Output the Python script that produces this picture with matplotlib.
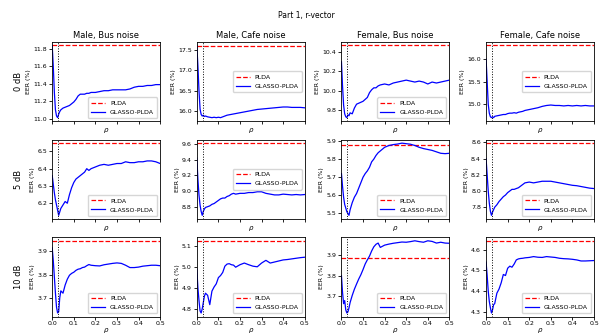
import numpy as np
import matplotlib
matplotlib.use('Agg')
import matplotlib.pyplot as plt

## -- rho grid shared by every run
rho = [0.0, 0.005, 0.01, 0.015, 0.02, 0.025, 0.03, 0.035, 0.04, 0.05, 0.06, 0.07, 0.08,
       0.09, 0.10, 0.11, 0.12, 0.13, 0.14, 0.15, 0.16, 0.17, 0.18, 0.20, 0.22, 0.24,
       0.26, 0.28, 0.30, 0.32, 0.34, 0.36, 0.38, 0.40, 0.42, 0.44, 0.46, 0.48, 0.50]
rho_best = 0.028

col_titles = ["Male, Bus noise", "Male, Cafe noise", "Female, Bus noise", "Female, Cafe noise"]
row_titles = ["0 dB", "5 dB", "10 dB"]

## -- PLDA baseline EER (%) per row, one per column
plda_0db = [11.84, 17.58, 10.47, 16.30]
plda_5db = [6.548, 9.61, 5.876, 8.59]
plda_10db = [3.945, 5.127, 3.886, 4.642]

## -- GLASSO-PLDA EER (%) over rho
glasso_male_bus_0db = [11.84, 11.6, 11.3, 11.1, 11.03, 11.01, 11.05, 11.08, 11.1, 11.12, 11.13, 11.14, 11.15,
                       11.17, 11.19, 11.22, 11.26, 11.28, 11.28, 11.28, 11.29, 11.29, 11.30, 11.30, 11.31, 11.32,
                       11.32, 11.33, 11.33, 11.33, 11.33, 11.34, 11.36, 11.37, 11.37, 11.38, 11.38, 11.39, 11.39]
glasso_male_cafe_0db = [17.6, 17.1, 16.5, 16.05, 15.92, 15.88, 15.9, 15.87, 15.88, 15.86, 15.85, 15.84, 15.85,
                        15.84, 15.85, 15.84, 15.86, 15.88, 15.9, 15.91, 15.92, 15.93, 15.94, 15.96, 15.98, 16.0,
                        16.02, 16.04, 16.05, 16.06, 16.07, 16.08, 16.09, 16.1, 16.1, 16.09, 16.09, 16.09, 16.08]
glasso_female_bus_0db = [10.3, 10.05, 9.85, 9.76, 9.73, 9.72, 9.75, 9.74, 9.77, 9.76, 9.82, 9.86, 9.87,
                         9.88, 9.89, 9.91, 9.93, 9.98, 10.01, 10.03, 10.03, 10.05, 10.06, 10.07, 10.06, 10.08,
                         10.09, 10.10, 10.11, 10.10, 10.09, 10.10, 10.09, 10.07, 10.09, 10.08, 10.09, 10.10, 10.11]
glasso_female_cafe_0db = [16.0, 15.5, 15.0, 14.8, 14.72, 14.7, 14.72, 14.7, 14.73, 14.74, 14.75, 14.76, 14.77,
                          14.77, 14.79, 14.8, 14.8, 14.81, 14.8, 14.82, 14.83, 14.84, 14.86, 14.88, 14.9, 14.92,
                          14.95, 14.97, 14.98, 14.97, 14.97, 14.96, 14.97, 14.96, 14.97, 14.96, 14.97, 14.96, 14.96]

glasso_male_bus_5db = [6.36, 6.31, 6.26, 6.22, 6.19, 6.16, 6.13, 6.15, 6.17, 6.19, 6.21, 6.2, 6.25,
                       6.29, 6.32, 6.34, 6.35, 6.36, 6.37, 6.38, 6.4, 6.39, 6.4, 6.41, 6.42, 6.425,
                       6.42, 6.425, 6.43, 6.43, 6.44, 6.435, 6.435, 6.44, 6.44, 6.445, 6.445, 6.44, 6.43]
glasso_male_cafe_5db = [9.42, 9.15, 8.95, 8.82, 8.74, 8.69, 8.74, 8.77, 8.79, 8.8, 8.81, 8.83, 8.84,
                        8.86, 8.88, 8.9, 8.91, 8.91, 8.93, 8.94, 8.96, 8.97, 8.96, 8.97, 8.97, 8.98,
                        8.98, 8.99, 8.99, 8.97, 8.96, 8.95, 8.95, 8.96, 8.955, 8.95, 8.955, 8.95, 8.955]
glasso_female_bus_5db = [5.72, 5.65, 5.59, 5.55, 5.53, 5.51, 5.5, 5.49, 5.52, 5.56, 5.59, 5.61, 5.64,
                         5.67, 5.7, 5.72, 5.735, 5.755, 5.785, 5.80, 5.82, 5.835, 5.845, 5.865, 5.875, 5.88,
                         5.883, 5.888, 5.885, 5.882, 5.875, 5.865, 5.858, 5.853, 5.848, 5.84, 5.832, 5.83, 5.832]
glasso_female_cafe_5db = [8.4, 8.2, 8.0, 7.85, 7.75, 7.7, 7.74, 7.77, 7.8, 7.83, 7.87, 7.9, 7.93,
                          7.95, 7.98, 8.0, 8.02, 8.02, 8.03, 8.04, 8.06, 8.08, 8.1, 8.11, 8.1, 8.11,
                          8.12, 8.12, 8.12, 8.11, 8.1, 8.09, 8.08, 8.07, 8.065, 8.055, 8.045, 8.035, 8.03]

glasso_male_bus_10db = [3.915, 3.86, 3.79, 3.72, 3.66, 3.635, 3.64, 3.7, 3.73, 3.72, 3.755, 3.78, 3.797,
                        3.805, 3.81, 3.818, 3.823, 3.825, 3.83, 3.832, 3.838, 3.843, 3.84, 3.838, 3.837, 3.842,
                        3.845, 3.848, 3.85, 3.848, 3.84, 3.83, 3.83, 3.832, 3.836, 3.838, 3.84, 3.84, 3.838]
glasso_male_cafe_10db = [4.99, 4.9, 4.84, 4.79, 4.78, 4.8, 4.83, 4.86, 4.875, 4.865, 4.82, 4.885, 4.905,
                         4.92, 4.95, 4.96, 4.975, 5.005, 5.015, 5.017, 5.012, 5.01, 5.0, 5.012, 5.02, 5.012,
                         5.005, 5.002, 5.02, 5.033, 5.02, 5.025, 5.03, 5.035, 5.037, 5.04, 5.043, 5.046, 5.048]
glasso_female_bus_10db = [3.8, 3.72, 3.665, 3.68, 3.635, 3.62, 3.625, 3.645, 3.67, 3.705, 3.735, 3.76, 3.784,
                          3.805, 3.83, 3.857, 3.877, 3.895, 3.92, 3.94, 3.952, 3.958, 3.937, 3.948, 3.953, 3.957,
                          3.96, 3.963, 3.962, 3.965, 3.969, 3.965, 3.962, 3.969, 3.966, 3.958, 3.962, 3.958, 3.957]
glasso_female_cafe_10db = [4.54, 4.475, 4.4, 4.35, 4.32, 4.295, 4.31, 4.335, 4.34, 4.39, 4.41, 4.44, 4.48,
                           4.475, 4.51, 4.52, 4.515, 4.53, 4.55, 4.555, 4.557, 4.558, 4.56, 4.562, 4.566, 4.563,
                           4.562, 4.566, 4.564, 4.562, 4.558, 4.556, 4.555, 4.553, 4.55, 4.545, 4.545, 4.546, 4.547]

## -- y ticks per panel
yticks_0db = [[11.0, 11.2, 11.4, 11.6, 11.8], [16.0, 16.5, 17.0, 17.5], [9.8, 10.0, 10.2, 10.4], [15.0, 15.5, 16.0]]
yticks_5db = [[6.2, 6.3, 6.4, 6.5], [8.8, 9.0, 9.2, 9.4, 9.6], [5.5, 5.6, 5.7, 5.8, 5.9], [7.8, 8.0, 8.2, 8.4, 8.6]]
yticks_10db = [[3.7, 3.8, 3.9], [4.8, 4.9, 5.0, 5.1], [3.7, 3.8, 3.9], [4.3, 4.4, 4.5, 4.6]]
xticks = [0.0, 0.1, 0.2, 0.3, 0.4, 0.5]

glasso = [[glasso_male_bus_0db, glasso_male_cafe_0db, glasso_female_bus_0db, glasso_female_cafe_0db],
          [glasso_male_bus_5db, glasso_male_cafe_5db, glasso_female_bus_5db, glasso_female_cafe_5db],
          [glasso_male_bus_10db, glasso_male_cafe_10db, glasso_female_bus_10db, glasso_female_cafe_10db]]
plda = [plda_0db, plda_5db, plda_10db]
yticks = [yticks_0db, yticks_5db, yticks_10db]
legend_loc = [["lower right", "center right", "lower right", "center right"],
              ["lower right", "center right", "lower right", "lower right"],
              ["lower right", "lower right", "lower right", "lower right"]]

plt.rcParams['axes.linewidth'] = 0.6
plt.rcParams['xtick.major.width'] = 0.6
plt.rcParams['ytick.major.width'] = 0.6
plt.rcParams['xtick.major.size'] = 2.2
plt.rcParams['ytick.major.size'] = 2.2
plt.rcParams['xtick.major.pad'] = 1.2
plt.rcParams['ytick.major.pad'] = 1.5
plt.rcParams['xtick.labelsize'] = 4.5
plt.rcParams['ytick.labelsize'] = 4.5

fig, axes = plt.subplots(3, 4, figsize=(6, 3.35), dpi=100)
fig.subplots_adjust(left=0.087, right=0.99, top=0.875, bottom=0.055, wspace=0.34, hspace=0.23)

for i in range(3):
	for j in range(4):
		ax = axes[i][j]
		ax.axhline(y=plda[i][j], linestyle="--", color="red", linewidth=0.9, label="PLDA")
		ax.plot(rho, glasso[i][j], linestyle="-", color="blue", linewidth=0.9, label="GLASSO-PLDA")
		ax.axvline(x=rho_best, linestyle=":", color="black", linewidth=0.7)
		ax.set_xlim(0, 0.5)
		ax.set_xticks(xticks)
		ax.set_yticks(yticks[i][j])
		if i < 2:
			ax.set_xticklabels([])
		ax.set_xlabel(r"$\rho$", fontsize=5, labelpad=0)
		ax.set_ylabel("EER (%)", fontsize=4.5, labelpad=1.5)
		if i == 0:
			ax.set_title(col_titles[j], fontsize=6, pad=3)
		if j == 0:
			ax.annotate(row_titles[i], xy=(-0.31, 0.5), xycoords="axes fraction",
			            rotation=90, ha="center", va="center", fontsize=6)
		ax.legend(loc=legend_loc[i][j], fontsize=4.5, handlelength=2.2, borderpad=0.5,
		          labelspacing=0.6, handletextpad=0.8)

fig.suptitle("Part 1, r-vector", x=0.51, y=0.955, fontsize=5.5, va="center")
plt.savefig("out.png", dpi=100)
